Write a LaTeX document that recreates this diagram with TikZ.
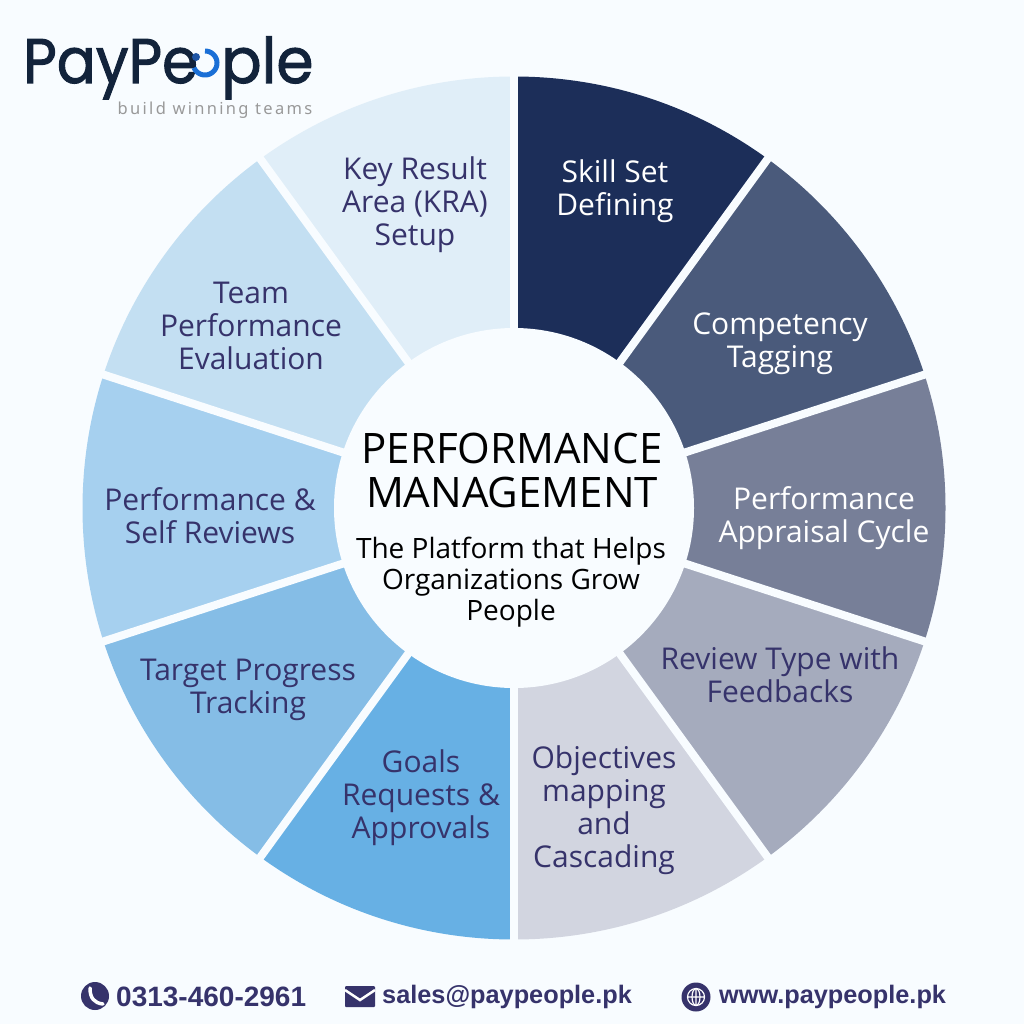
\documentclass[tikz,border=0pt]{standalone}
\usepackage{fontspec}
\usetikzlibrary{calc}
\setmainfont{Open Sans}
\newfontfamily\logofont[FakeBold=1.6]{Poppins}
\newfontfamily\tagfont[LetterSpace=14]{Noto Sans}
\newfontfamily\footfont{Liberation Sans}
\definecolor{bgc}{HTML}{F8FCFF}
\definecolor{ink}{HTML}{36336B}
\definecolor{logoink}{HTML}{12233B}
\definecolor{logoblue}{HTML}{1A6FD6}
\definecolor{logodot}{HTML}{1F55A5}
\definecolor{s1}{HTML}{1C2E59}
\definecolor{s2}{HTML}{4A5A7B}
\definecolor{s3}{HTML}{777F98}
\definecolor{s4}{HTML}{A5ABBD}
\definecolor{s5}{HTML}{D2D5E0}
\definecolor{s6}{HTML}{67B0E4}
\definecolor{s7}{HTML}{85BDE6}
\definecolor{s8}{HTML}{A6D0EF}
\definecolor{s9}{HTML}{C3DFF2}
\definecolor{s10}{HTML}{E0EEF8}
\tikzset{
 darklabel/.style={align=center,text=ink,inner sep=0pt,font=\fontsize{30}{33}\selectfont},
 lightlabel/.style={darklabel,text=white},
 foot/.style={text=ink,inner sep=0pt,anchor=west,font=\footfont\bfseries\fontsize{25.3}{30}\selectfont},
 logotext/.style={anchor=base west,inner sep=0pt,text=logoink,font=\logofont\fontsize{63}{63}\selectfont},
 gapline/.style={bgc,line width=8pt}
}
\begin{document}
\begin{tikzpicture}[x=1pt,y=-1pt]
\useasboundingbox (0,0) rectangle (1024,1024);
\fill[bgc] (0,0) rectangle (1024,1024);
\coordinate (c) at (514,508);
\begin{scope}
\clip (c) circle[radius=431.5];
\foreach \a/\col in {-90/s1,-54/s2,-18/s3,18/s4,54/s5,90/s6,126/s7,162/s8,198/s9,234/s10}{
  \fill[\col] (c) -- ($(c)+(\a:620)$) -- ($(c)+(\a+36:620)$) -- cycle;
}
\end{scope}
\foreach \a in {-90,-54,-18,18,54,90,126,162,198,234}{
  \draw[gapline] (c) -- ($(c)+(\a:445)$);
}
\fill[bgc] (c) circle[radius=180];
% labels
\node[lightlabel] (n1) at (615,191) {Skill Set\\Defining};
\node[lightlabel] (n2) at (780,344) {Competency\\Tagging};
\node[lightlabel] (n3) at (824,518) {Performance\\Appraisal Cycle};
\node[darklabel] (n4) at (780,675) {Review Type with\\Feedbacks};
\node[darklabel] (n5) at (604,810) {Objectives\\mapping\\and\\Cascading};
\node[darklabel] (n6) at (421,798) {Goals\\Requests \&\\Approvals};
\node[darklabel] (n7) at (248,690) {Target Progress\\Tracking};
\node[darklabel] (n8) at (210,516) {Performance \&\\Self Reviews};
\node[darklabel] (n9) at (251,326) {Team\\Performance\\Evaluation};
\node[darklabel] (n10) at (415,205) {Key Result\\Area (KRA)\\Setup};
% centre
\node[align=center,inner sep=0pt,text=black,font=\fontsize{42}{44}\selectfont] (title) at (512,470) {PERFORMANCE\\MANAGEMENT};
\node[align=center,inner sep=0pt,text=black,font=\fontsize{28}{31}\selectfont] (sub) at (511,582) {The Platform that Helps\\Organizations Grow\\People};
% logo
\node[logotext] (logoa) at (23,83) {\scalebox{0.92}[1]{PayPe}};
\node[logotext] (logob) at (221,83) {\scalebox{0.95}[1]{ple}};
\draw[logoblue,line width=5pt] plot[domain=-90:157,samples=40,smooth] ({205+12*cos(\x)},{63+12*sin(\x)});
\fill[logodot] (196,57) circle[radius=4];
\node[inner sep=0pt,text=gray!80,font=\tagfont\fontsize{16.5}{18}\selectfont] (tag) at (215,110) {build winning teams};
% footer
\fill[ink] (95,996) circle[radius=14];
\draw[white,line width=3.5pt,line cap=round] (90,988) .. controls (90,998) and (94,1003) .. (103,1004);
\node[foot,font=\footfont\bfseries\fontsize{28}{30}\selectfont] (phone) at (116,997) {0313-460-2961};
\fill[ink,rounded corners=1pt] (345,986) rectangle (375,1007);
\draw[white,line width=2.5pt] (345,990) -- (360,1000) -- (375,990);
\node[foot] (mail) at (382,997) {sales@paypeople.pk};
\fill[ink] (696,997) circle[radius=14.5];
\draw[white,line width=1.2pt] (696,997) circle[radius=8.5] (687.5,997) -- (704.5,997) (696,988.5) -- (696,1005.5);
\draw[white,line width=1.2pt] (696,997) ellipse[x radius=4,y radius=8.5];
\node[foot] (web) at (719,997) {www.paypeople.pk};
\end{tikzpicture}
\end{document}
